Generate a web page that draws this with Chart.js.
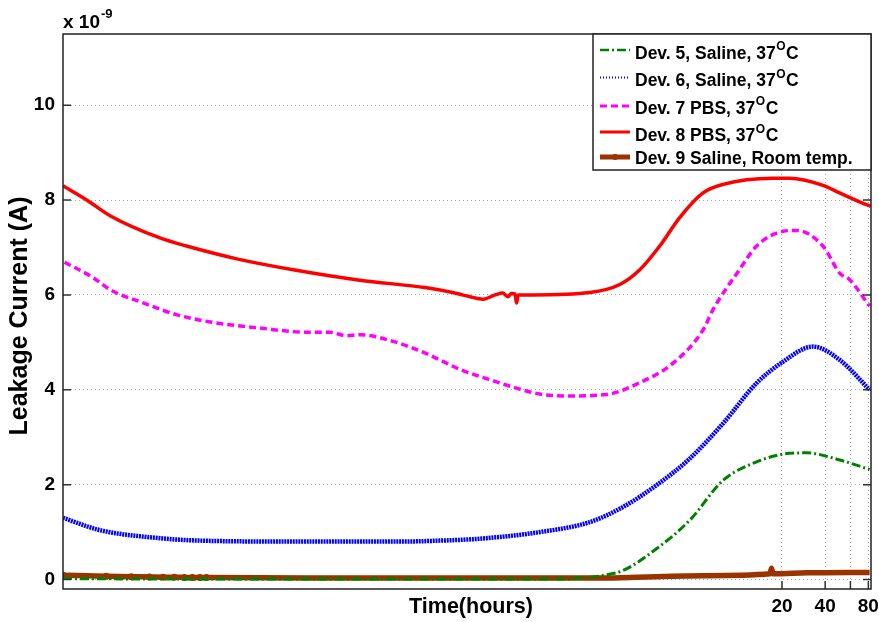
<!DOCTYPE html>
<html><head><meta charset="utf-8">
<script src="https://cdn.jsdelivr.net/npm/chart.js@4.4.1/dist/chart.umd.min.js"></script>
<style>html,body{margin:0;padding:0;background:#fff}#wrap{width:879px;height:622px}</style>
</head><body><div id="wrap"><canvas id="c" width="879" height="622"></canvas></div>
<script>
// Time in hours (log scale), leakage current in units of 1e-9 A
const xTicks = [20, 40, 60, 80];
const xTickLabels = ['20', '40', '', '80'];
const yTicks = [0, 2, 4, 6, 8, 10];
const seriesLabels = ['Dev. 5, Saline, 37', 'Dev. 6, Saline, 37', 'Dev. 7 PBS, 37', 'Dev. 8 PBS, 37', 'Dev. 9 Saline, Room temp.'];

const dev5 = [[1.94e-4,0.02],[0.001,0.01],[0.1,0.01],[0.6,0.01],[0.8,0.03],[1.1,0.08],[1.56,0.19],[2.67,0.65],[4.55,1.25],[7.76,2.09],[13.3,2.48],[22.6,2.66],[29.6,2.67],[50.5,2.52],[81.7,2.32]];
const dev6 = [[1.94e-4,1.30],[3.52e-4,1.04],[7.85e-4,0.89],[1.75e-3,0.82],[8.71e-3,0.80],[0.0434,0.80],[0.0824,0.82],[0.156,0.86],[0.41,1.0],[0.914,1.21],[1.56,1.53],[2.67,1.99],[4.55,2.55],[7.76,3.29],[13.3,4.14],[20.3,4.59],[32.9,4.91],[50.5,4.63],[81.7,4.0]];
const dev7 = [[1.99e-4,6.69],[3.16e-4,6.36],[4.13e-4,6.11],[7.05e-4,5.83],[1.21e-3,5.58],[2.06e-3,5.43],[4.58e-3,5.30],[0.0102,5.21],[0.0141,5.21],[0.0184,5.14],[0.0228,5.16],[0.0389,5.02],[0.0665,4.76],[0.1135,4.43],[0.156,4.28],[0.184,4.21],[0.41,3.91],[0.63,3.87],[1.194,3.90],[2.04,4.15],[3.48,4.56],[5.63,5.26],[6.61,5.69],[10.1,6.53],[13.3,7.03],[20.3,7.34],[25.2,7.36],[38.6,7.03],[50.5,6.46],[59.3,6.32],[81.7,5.76]];
const dev8 = [[1.94e-4,8.30],[2.84e-4,8.00],[4.13e-4,7.67],[9.21e-4,7.20],[1.41e-3,7.03],[3.16e-3,6.76],[7.82e-3,6.53],[0.0228,6.31],[0.0665,6.15],[0.101,6.05],[0.148,5.93],[0.165,5.91],[0.2,6.0],[0.226,6.04],[0.245,5.96],[0.26,6.03],[0.275,6.02],[0.282,5.83],[0.29,6.0],[0.366,6.0],[0.914,6.05],[1.48,6.22],[2.04,6.53],[2.81,7.03],[3.87,7.63],[5.63,8.15],[7.76,8.33],[17.3,8.46],[22.6,8.46],[38.6,8.31],[50.5,8.15],[79.4,7.89],[83,7.87]];
const dev9 = [[1.94e-4,0.09],[3.88e-4,0.07],[5.82e-4,0.06],[7.76e-4,0.055],[9.7e-4,0.05],[1.16e-3,0.05],[1.36e-3,0.045],[1.55e-3,0.045],[1.75e-3,0.04],[1.94e-3,0.04],[0.01,0.03],[0.1,0.03],[0.914,0.03],[5.63,0.08],[16.5,0.12],[16.9,0.24],[17.3,0.12],[30,0.14],[81.7,0.15]];
const dev9MarkedPoints = 10;

const colors = ['rgb(0,128,0)', 'rgb(0,0,255)', 'rgb(255,0,255)', 'rgb(255,0,0)', 'rgb(153,51,0)'];
const dashes = [[9,3,2,3], [2,0.8], [7,4], [], []];
const widths = [3, 4.5, 3.5, 3.5, 5.5];
const allData = [dev5, dev6, dev7, dev8, dev9];

const datasets = allData.map((d, i) => ({
  label: seriesLabels[i],
  data: d.map(p => ({x: p[0], y: p[1]})),
  borderColor: colors[i],
  backgroundColor: colors[i],
  borderWidth: widths[i],
  borderDash: dashes[i],
  pointRadius: i === 4 ? d.map((p, k) => k < dev9MarkedPoints ? 3.5 : 0) : 0,
  pointBorderWidth: 0,
  pointHoverRadius: 0,
  cubicInterpolationMode: 'monotone',
  fill: false
}));

const FONT = '"Liberation Sans", Arial, sans-serif';

const decor = {
  id: 'decor',
  afterDraw(chart) {
    const ctx = chart.ctx, a = chart.chartArea, xs = chart.scales.x, ys = chart.scales.y;
    ctx.save();
    // inward ticks
    ctx.strokeStyle = '#333'; ctx.lineWidth = 1.5;
    yTicks.forEach(v => {
      const y = ys.getPixelForValue(v);
      ctx.beginPath(); ctx.moveTo(a.left, y); ctx.lineTo(a.left + 8, y);
      ctx.moveTo(a.right, y); ctx.lineTo(a.right - 8, y); ctx.stroke();
    });
    xTicks.forEach(v => {
      const x = xs.getPixelForValue(v);
      ctx.beginPath(); ctx.moveTo(x, a.bottom); ctx.lineTo(x, a.bottom - 8);
      ctx.moveTo(x, a.top); ctx.lineTo(x, a.top + 8); ctx.stroke();
    });
    // frame
    ctx.strokeStyle = '#222'; ctx.lineWidth = 1.5;
    ctx.strokeRect(a.left, a.top, a.right - a.left, a.bottom - a.top);

    // legend
    const lx = 593, ly = a.top, lw = a.right - 593, lh = 136;
    ctx.fillStyle = '#fff'; ctx.fillRect(lx, ly, lw, lh);
    ctx.strokeStyle = '#222'; ctx.lineWidth = 1.5; ctx.strokeRect(lx, ly, lw, lh);
    const rowsText = [54, 81.5, 109, 136.5, 159];
    const rowsLine = [50, 77.5, 106, 132, 157];
    seriesLabels.forEach((lab, i) => {
      ctx.save();
      ctx.strokeStyle = colors[i];
      ctx.lineWidth = i === 1 ? 2 : widths[i] - 0.5;
      ctx.setLineDash(i === 1 ? [1, 2] : dashes[i]);
      ctx.beginPath(); ctx.moveTo(600, rowsLine[i]); ctx.lineTo(630, rowsLine[i]); ctx.stroke();
      if (i === 4) { ctx.fillStyle = colors[i]; ctx.beginPath(); ctx.arc(615, rowsLine[i], 3, 0, Math.PI * 2); ctx.fill(); }
      ctx.restore();
      ctx.fillStyle = '#000'; ctx.textBaseline = 'middle'; ctx.textAlign = 'left';
      ctx.font = 'bold 17.5px ' + FONT;
      ctx.fillText(lab, 635, rowsText[i]);
      if (i < 4) {
        let w = ctx.measureText(lab).width;
        ctx.font = 'bold 12px ' + FONT;
        ctx.fillText('O', 635 + w + 0.5, rowsText[i] - 7);
        const w2 = ctx.measureText('O').width;
        ctx.font = 'bold 17.5px ' + FONT;
        ctx.fillText('C', 635 + w + w2 + 1, rowsText[i]);
      }
    });

    // exponent label
    ctx.fillStyle = '#000'; ctx.textBaseline = 'alphabetic'; ctx.textAlign = 'left';
    ctx.font = 'bold 19px ' + FONT;
    ctx.fillText('x 10', 63, 28);
    const ew = ctx.measureText('x 10').width;
    ctx.font = 'bold 13px ' + FONT;
    ctx.fillText('-9', 63 + ew + 1, 18);

    // axis titles
    ctx.font = 'bold 21.5px ' + FONT; ctx.textAlign = 'center'; ctx.textBaseline = 'middle';
    ctx.fillText('Time(hours)', 471, 607);
    ctx.font = 'bold 25px ' + FONT;
    ctx.save(); ctx.translate(20, 316); ctx.rotate(-Math.PI / 2);
    ctx.fillText('Leakage Current (A)', 0, 0);
    ctx.restore();
    ctx.restore();
  }
};

new Chart(document.getElementById('c'), {
  type: 'line',
  data: { datasets },
  options: {
    responsive: false, animation: false, devicePixelRatio: 1,
    layout: { padding: { left: 0, top: 34, right: 8, bottom: 0 } },
    plugins: { legend: { display: false }, tooltip: { enabled: false } },
    scales: {
      x: {
        type: 'logarithmic', min: 1.94e-4, max: 83.5,
        afterBuildTicks: s => { s.ticks = xTicks.map(v => ({ value: v })); },
        afterFit: s => { s.height = 33; s.paddingLeft = 0; s.paddingRight = 0; },
        ticks: { autoSkip: false, maxRotation: 0, padding: 6, color: '#000',
          font: { family: FONT, size: 19, weight: 'bold' },
          callback: (v) => { const i = xTicks.indexOf(v); return i >= 0 ? xTickLabels[i] : ''; } },
        grid: { color: '#aaa', drawTicks: false, lineWidth: 1 },
        border: { display: false, dash: [1, 3] }
      },
      y: {
        type: 'linear', min: -0.2, max: 11.5,
        afterBuildTicks: s => { s.ticks = yTicks.map(v => ({ value: v })); },
        afterFit: s => { s.width = 63; s.paddingTop = 0; s.paddingBottom = 0; },
        ticks: { padding: 8, color: '#000', font: { family: FONT, size: 19, weight: 'bold' } },
        grid: { color: '#aaa', drawTicks: false, lineWidth: 1 },
        border: { display: false, dash: [1, 3] }
      }
    }
  },
  plugins: [decor]
});
</script></body></html>
